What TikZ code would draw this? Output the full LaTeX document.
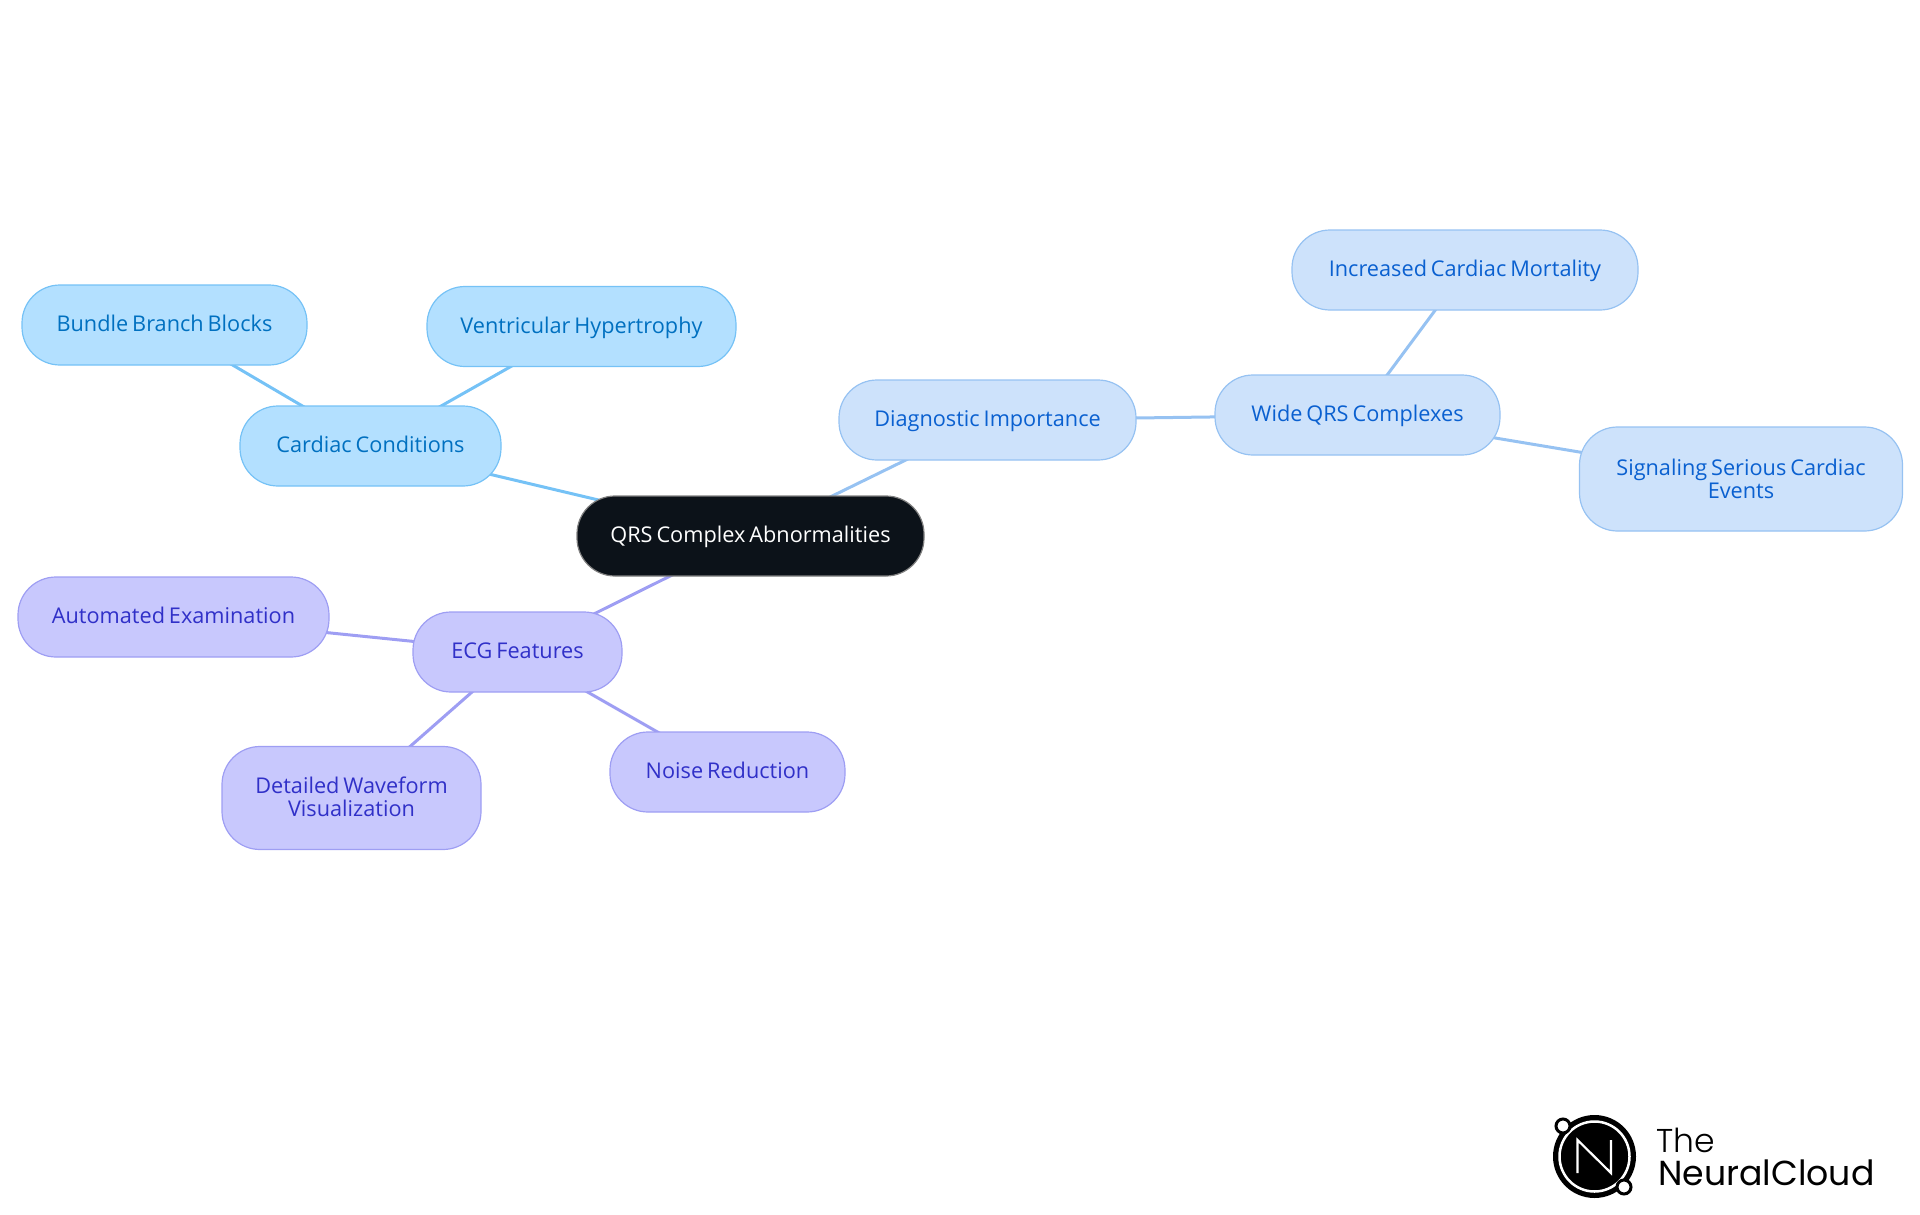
\documentclass[tikz,border=0pt]{standalone}
\usepackage{fontspec}
\setmainfont{Open Sans}[WordSpace=0.7]
\newfontfamily\logolight{Poppins Light}
\newfontfamily\logomain{Poppins}
\usetikzlibrary{backgrounds}
\definecolor{rootfill}{HTML}{0C1219}
\definecolor{skyfill}{HTML}{B3E0FF}
\definecolor{skydraw}{HTML}{75C2F6}
\definecolor{skytext}{HTML}{0070C0}
\definecolor{bluefill}{HTML}{CDE2FB}
\definecolor{bluedraw}{HTML}{96C2F2}
\definecolor{bluetext}{HTML}{0A60D0}
\definecolor{violetfill}{HTML}{C8C8FD}
\definecolor{violetdraw}{HTML}{9E9EF3}
\definecolor{violettext}{HTML}{3030C8}

\begin{document}
\begin{tikzpicture}[
		x=1pt, y=-1pt,
		font=\fontsize{21.7}{23}\selectfont,
		every node/.style={align=center},
		topic/.style={rectangle, rounded corners=38pt, line width=1.2pt,
				inner sep=0pt, minimum height=80pt},
		oneline/.style={text height=17.5pt, text depth=4.5pt},
		twolines/.style={text depth=2.5pt},
		rootbox/.style={topic, draw=gray, fill=rootfill, text=white},
		skybox/.style={topic, draw=skydraw, fill=skyfill, text=skytext},
		bluebox/.style={topic, draw=bluedraw, fill=bluefill, text=bluetext},
		violetbox/.style={topic, draw=violetdraw, fill=violetfill, text=violettext},
		skyline/.style={line width=3pt, skydraw},
		blueline/.style={line width=3pt, bluedraw},
		violetline/.style={line width=3pt, violetdraw},
		]
	\useasboundingbox (0,0) rectangle (1920,1215);

	\node[rootbox, oneline, minimum width=347pt] (root) at (750.5,536) {QRS Complex Abnormalities};

	\node[skybox, oneline, minimum width=261pt] (cardiac) at (370.5,446) {Cardiac Conditions};
	\node[skybox, oneline, minimum width=285pt] (bundle) at (164.5,325) {Bundle Branch Blocks};
	\node[skybox, oneline, minimum width=309pt] (hyper) at (581.5,326.5) {Ventricular Hypertrophy};

	\node[bluebox, oneline, minimum width=297pt] (diag) at (987.5,420) {Diagnostic Importance};
	\node[bluebox, oneline, minimum width=285pt] (wide) at (1357.5,415) {Wide QRS Complexes};
	\node[bluebox, oneline, minimum width=346pt] (mort) at (1465,270) {Increased Cardiac Mortality};
	\node[bluebox, minimum width=323pt, minimum height=104pt] (events) at (1741,479) {Signaling Serious Cardiac \\ Events};

	\node[violetbox, oneline, minimum width=209pt] (ecg) at (517.5,652) {ECG Features};
	\node[violetbox, oneline, minimum width=311pt] (auto) at (173.5,617) {Automated Examination};
	\node[violetbox, twolines, minimum width=259pt, minimum height=103pt] (wave) at (351.5,798) {Detailed Waveform \\ Visualization};
	\node[violetbox, oneline, minimum width=235pt] (noise) at (727.5,772) {Noise Reduction};

	\begin{scope}[on background layer]
		\draw[skyline] (root.center) -- (cardiac.center);
		\draw[skyline] (cardiac.center) -- (bundle.center);
		\draw[skyline] (cardiac.center) -- (hyper.center);
		\draw[blueline] (root.center) -- (diag.center);
		\draw[blueline] (diag.center) -- (wide.center);
		\draw[blueline] (wide.center) -- (mort.center);
		\draw[blueline] (wide.center) -- (events.center);
		\draw[violetline] (root.center) -- (ecg.center);
		\draw[violetline] (ecg.center) -- (auto.center);
		\draw[violetline] (ecg.center) -- (wave.center);
		\draw[violetline] (ecg.center) -- (noise.center);
	\end{scope}

	\fill[black] (1594.5,1156.5) circle (41.5pt);
	\draw[white, line width=2.5pt] (1594.5,1156.5) circle (35pt);
	\draw[white, line width=2.2pt] (1577.5,1173) -- (1577.5,1140) -- (1611,1173) -- (1611,1140);
	\draw[black, fill=white, line width=3pt] (1563,1126) circle (7pt);
	\draw[black, fill=white, line width=3pt] (1624,1187) circle (7pt);

	\node[anchor=base west, inner sep=0pt, font=\logolight\fontsize{33}{33}\selectfont] (logotop) at (1656,1152) {The};
	\node[anchor=base west, inner sep=0pt, font=\logomain\fontsize{34.7}{34}\selectfont] (logobottom) at (1658,1185) {NeuralCloud};
\end{tikzpicture}
\end{document}
